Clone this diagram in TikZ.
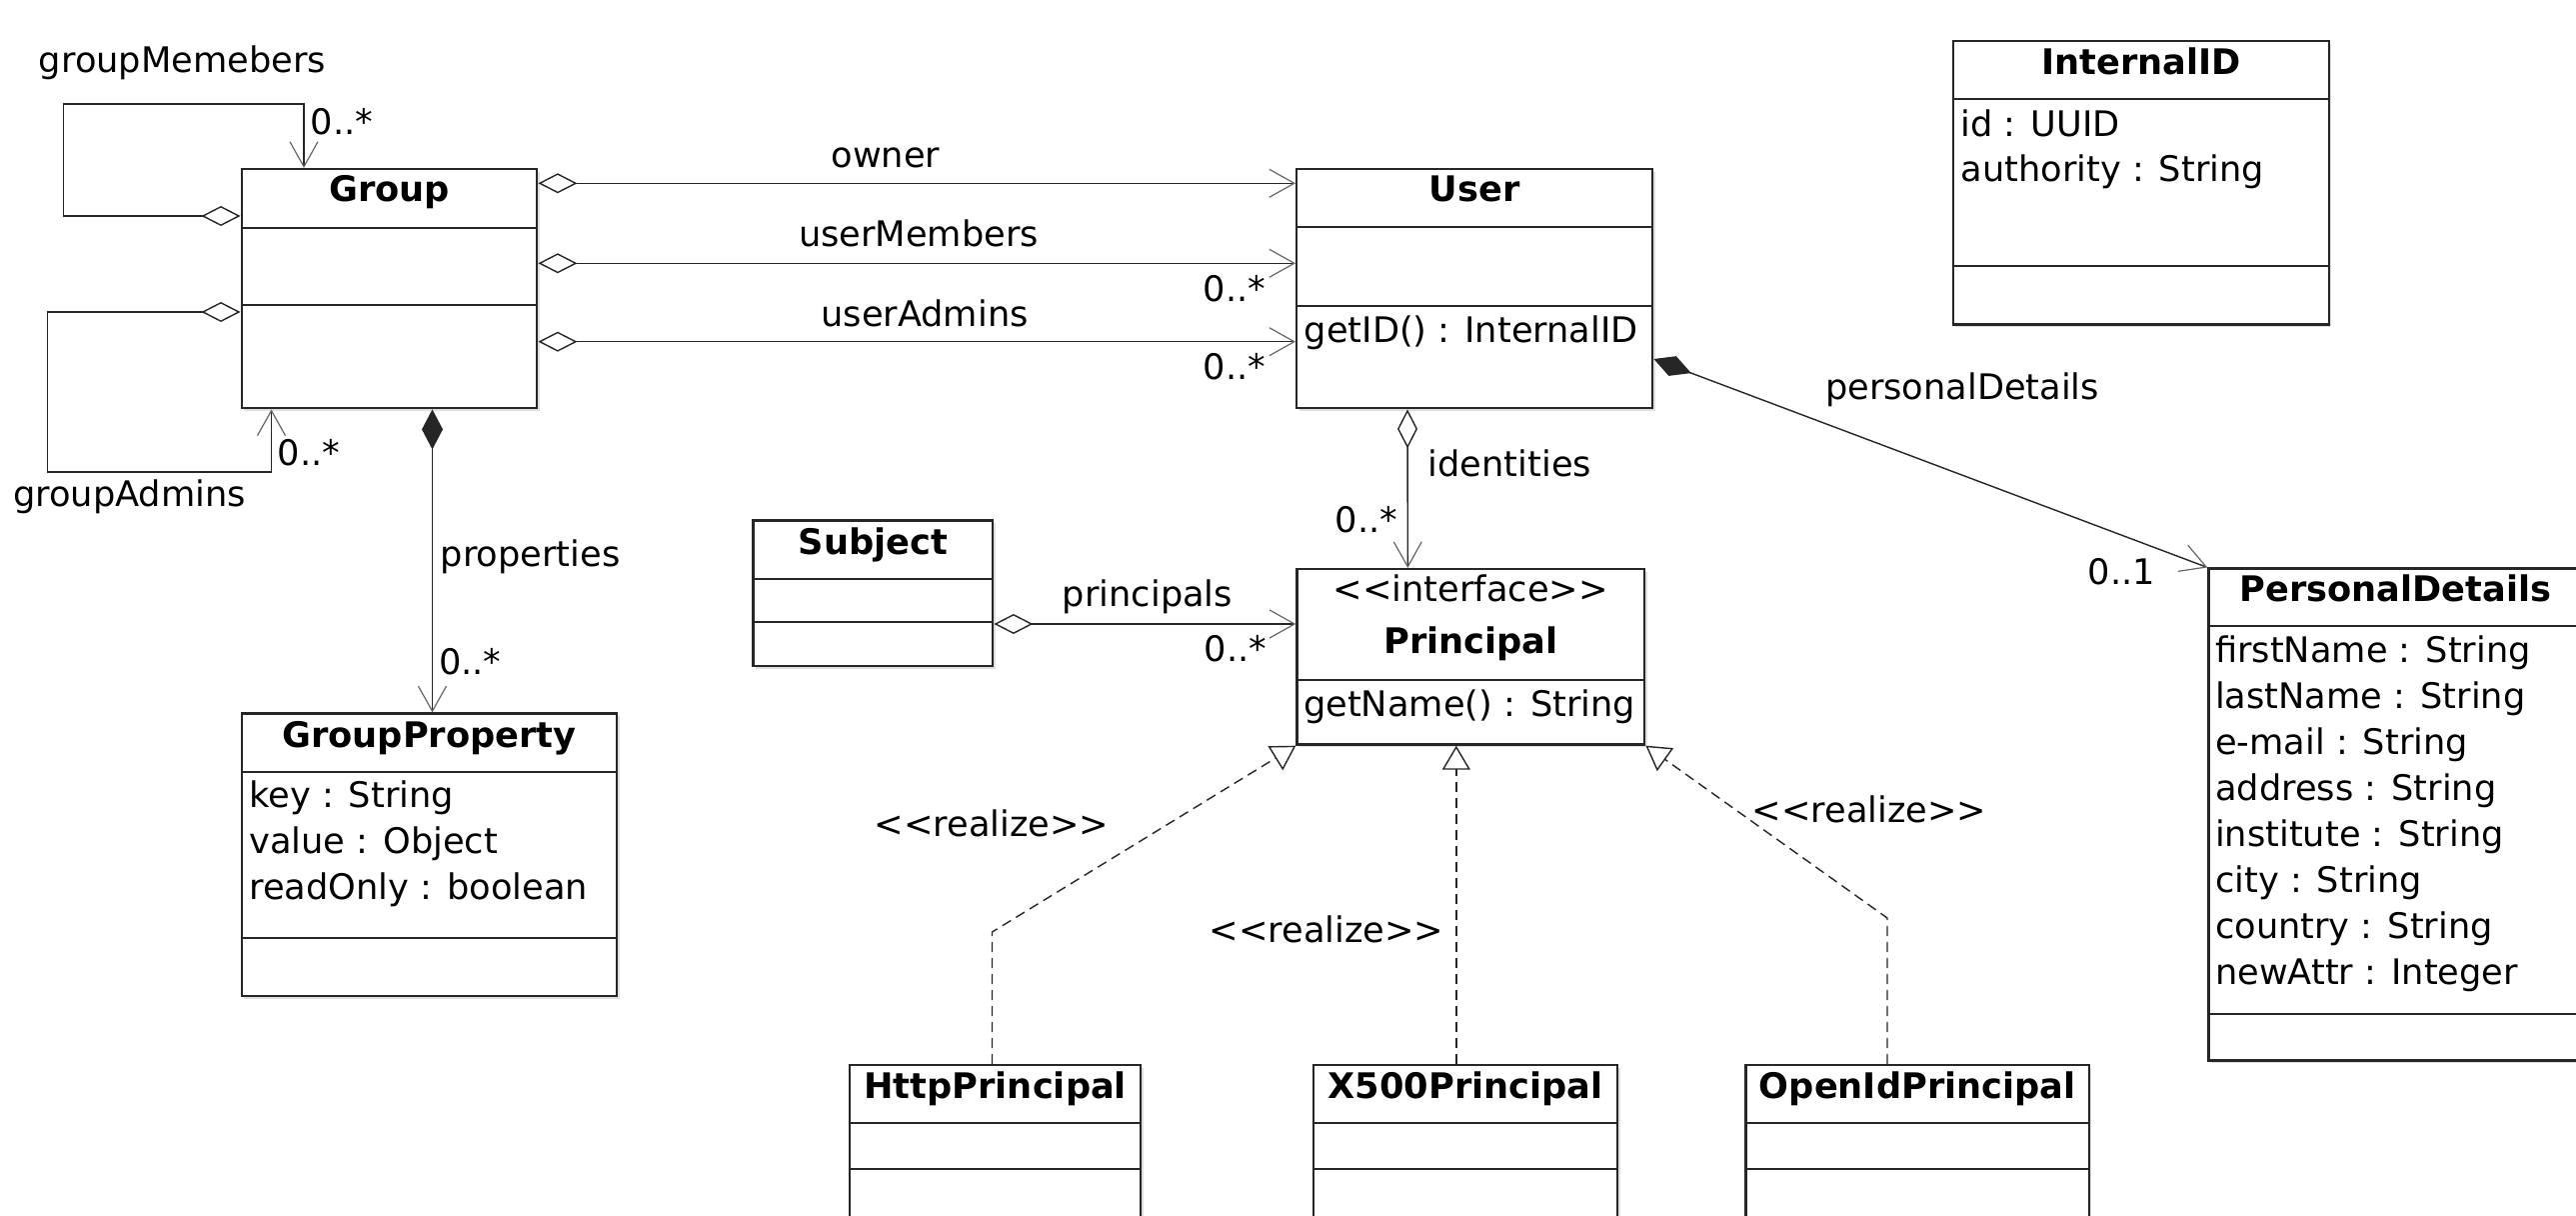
\documentclass[tikz,border=0pt]{standalone}
\usepackage{fontspec}
\setmainfont{DejaVu Sans}
\usetikzlibrary{arrows.meta,calc,shadows}

\newcommand\umlfont{\fontsize{8.8pt}{11.5pt}\selectfont}

\tikzset{
  cls/.style={draw=black!85, line width=0.6pt, fill=white, rectangle, inner sep=0pt,
    anchor=north west,
    drop shadow={shadow xshift=0.6pt, shadow yshift=-0.6pt, opacity=0.25}},
  sep/.style={draw=black!85, line width=0.5pt},
  ttl/.style={anchor=base, inner sep=0pt, font=\umlfont\bfseries},
  attr/.style={anchor=base west, inner sep=0pt},
  lbl/.style={anchor=base, inner sep=0pt},
  lblw/.style={anchor=base west, inner sep=0pt},
  link/.style={line width=0.35pt, draw=black!85},
  agg/.style={link,
    {Diamond[open,length=9.75pt,width=5pt,line width=0.35pt]}-{Straight Barb[length=6.25pt,width=7pt,line width=0.3pt,color=black!60]}},
  compo/.style={link,
    {Diamond[length=10pt,width=5.25pt]}-{Straight Barb[length=6.25pt,width=7pt,line width=0.3pt,color=black!60]}},
  real/.style={link, dash pattern=on 2.5pt off 1.5pt,
    -{Triangle[open,length=6pt,width=7pt,line width=0.35pt]}},
}

\begin{document}
\begin{tikzpicture}[x=0.25pt, y=-0.25pt, font=\umlfont]
\useasboundingbox (0,0) rectangle (2577,1216);
\clip (0,0) rectangle (2577,1216);
\fill[white] (0,0) rectangle (2577,1216);

% ---------- classes ----------
% Group
\node[cls, minimum width=73.875pt, minimum height=59.75pt] (group) at (240.5,168) {};
\draw[sep] ($(group.north west)+(0,60)$) -- ($(group.north east)+(0,60)$);
\draw[sep] ($(group.north west)+(0,137.5)$) -- ($(group.north east)+(0,137.5)$);
\node[ttl] (group-t) at ($(group.north)+(0,34)$) {Group};

% User
\node[cls, minimum width=89pt, minimum height=59.75pt] (user) at (1296,168) {};
\draw[sep] ($(user.north west)+(0,59.3)$) -- ($(user.north east)+(0,59.3)$);
\draw[sep] ($(user.north west)+(0,137.7)$) -- ($(user.north east)+(0,137.7)$);
\node[ttl] (user-t) at ($(user.north)+(0,34)$) {User};
\node[attr] (user-o1) at ($(user.north west)+(8,174.7)$) {getID() : InternalID};

% InternalID
\node[cls, minimum width=94pt, minimum height=70.825pt] (internalid) at (1952.7,40) {};
\draw[sep] ($(internalid.north west)+(0,59.3)$) -- ($(internalid.north east)+(0,59.3)$);
\draw[sep] ($(internalid.north west)+(0,225.7)$) -- ($(internalid.north east)+(0,225.7)$);
\node[ttl] (internalid-t) at ($(internalid.north)+(0,35)$) {InternalID};
\node[attr] (internalid-a1) at ($(internalid.north west)+(8,96.5)$) {id : UUID};
\node[attr] (internalid-a2) at ($(internalid.north west)+(8,142)$) {authority : String};

% Subject
\node[cls, minimum width=59.925pt, minimum height=36.425pt] (subject) at (752.3,519.3) {};
\draw[sep] ($(subject.north west)+(0,60)$) -- ($(subject.north east)+(0,60)$);
\draw[sep] ($(subject.north west)+(0,103)$) -- ($(subject.north east)+(0,103)$);
\node[ttl] (subject-t) at ($(subject.north)+(0,35.5)$) {Subject};

% Principal (interface)
\node[cls, minimum width=86.925pt, minimum height=43.825pt] (principal) at (1296.3,568) {};
\draw[sep] ($(principal.north west)+(0,112)$) -- ($(principal.north east)+(0,112)$);
\node[lbl] (principal-s) at ($(principal.north)+(0,33.5)$) {<{}<interface>{}>};
\node[ttl] (principal-t) at ($(principal.north)+(0,86)$) {Principal};
\node[attr] (principal-o1) at ($(principal.north west)+(7,148.7)$) {getName() : String};

% GroupProperty
\node[cls, minimum width=93.875pt, minimum height=70.65pt] (gprop) at (240.5,712.4) {};
\draw[sep] ($(gprop.north west)+(0,59.3)$) -- ($(gprop.north east)+(0,59.3)$);
\draw[sep] ($(gprop.north west)+(0,225.4)$) -- ($(gprop.north east)+(0,225.4)$);
\node[ttl] (gprop-t) at ($(gprop.north)+(0,35.5)$) {GroupProperty};
\foreach \t [count=\i from 0] in {key : String, value : Object, readOnly : boolean}
  \node[attr] (gprop-a\i) at ($(gprop.north west)+(8,95.6+46*\i)$) {\t};

% PersonalDetails
\node[cls, minimum width=93.5pt, minimum height=122.95pt] (pdet) at (2208.3,567.5) {};
\draw[sep] ($(pdet.north west)+(0,58.9)$) -- ($(pdet.north east)+(0,58.9)$);
\draw[sep] ($(pdet.north west)+(0,446.1)$) -- ($(pdet.north east)+(0,446.1)$);
\node[ttl] (pdet-t) at ($(pdet.north)+(0,34.5)$) {PersonalDetails};
\foreach \t [count=\i from 0] in {firstName : String, lastName : String, e-mail : String,
    address : String, institute : String, city : String, country : String, newAttr : Integer}
  \node[attr] (pdet-a\i) at ($(pdet.north west)+(7,95.4+45.9*\i)$) {\t};

% Principal implementations
\node[cls, minimum width=72.75pt, minimum height=50pt] (http) at (849,1064) {};
\node[cls, minimum width=76pt, minimum height=50pt] (xfive) at (1313,1064) {};
\node[cls, minimum width=85.8pt, minimum height=50pt] (openid) at (1745.4,1064) {};
\foreach \c in {http, xfive, openid} {
  \draw[sep] ($(\c.north west)+(0,59.3)$) -- ($(\c.north east)+(0,59.3)$);
  \draw[sep] ($(\c.north west)+(0,105.3)$) -- ($(\c.north east)+(0,105.3)$);
}
\node[ttl] (http-t) at ($(http.north)+(0,34.3)$) {HttpPrincipal};
\node[ttl] (xfive-t) at ($(xfive.north)+(0,34.3)$) {X500Principal};
\node[ttl] (openid-t) at ($(openid.north)+(0,34.3)$) {OpenIdPrincipal};

% ---------- associations ----------
% group self-associations
\draw[agg] ($(group.north west)+(0,48)$) -| ($(group.north west)+(-177,-64)$)
  -| ($(group.north west)+(63.5,0)$);
\draw[agg] ($(group.north west)+(0,144)$) -| ($(group.north west)+(-193,304)$)
  -| ($(group.south west)+(31,0)$);

% group to user
\draw[agg] ($(group.north east)+(0,15.3)$) coordinate (own-s) -- (own-s -| user.west);
\draw[agg] ($(group.north east)+(0,95.3)$) coordinate (um-s) -- (um-s -| user.west);
\draw[agg] ($(group.north east)+(0,173.7)$) coordinate (ua-s) -- (ua-s -| user.west);

% group properties
\draw[compo] ($(group.south west)+(192,0)$) -- ($(gprop.north west)+(192,0)$);

% user identities and details
\draw[agg] ($(user.south west)+(112,0)$) -- ($(principal.north west)+(112,0)$);
\draw[compo] ($(user.north east)+(0,191)$) -- (pdet.north west);

% subject principals
\draw[agg] ($(subject.north east)+(0,104.7)$) coordinate (pr-s) -- (pr-s -| principal.west);

% realizations
\draw[real] ($(http.north west)+(143.5,0)$) -- ++(0,-132) -- (principal.south west);
\draw[real] ($(xfive.north west)+(143.8,0)$) coordinate (x5-s) -- (x5-s |- principal.south);
\draw[real] ($(openid.north west)+(142.6,0)$) -- ++(0,-146) -- (principal.south east);

% ---------- labels ----------
\node[lbl] (l-gm) at (182.5,73) {groupMemebers};
\node[lblw] (m-gm) at (310,135) {0..*};
\node[lblw] (l-ga) at (12.4,507) {groupAdmins};
\node[lblw] (m-ga) at (277,466) {0..*};

\node[lbl] (l-own) at (886,168) {owner};
\node[lbl] (l-um) at (919,246.7) {userMembers};
\node[lbl] (l-ua) at (925,326.7) {userAdmins};
\node[lblw] (m-um) at (1203,301.7) {0..*};
\node[lblw] (m-ua) at (1203,380) {0..*};

\node[lblw] (l-prop) at (440,567) {properties};
\node[lblw] (m-prop) at (438.3,674.8) {0..*};

\node[lblw] (l-id) at (1428,476.7) {identities};
\node[lblw] (m-id) at (1335,533) {0..*};

\node[lbl] (l-pd) at (1963,400) {personalDetails};
\node[lblw] (m-pd) at (2088,585) {0..1};

\node[lbl] (l-pr) at (1148,607) {principals};
\node[lblw] (m-pr) at (1204,661.7) {0..*};

\node[lbl] (r-http) at (992,837) {<{}<realize>{}>};
\node[lbl] (r-xfive) at (1327,943) {<{}<realize>{}>};
\node[lbl] (r-openid) at (1870,823) {<{}<realize>{}>};
\end{tikzpicture}
\end{document}
